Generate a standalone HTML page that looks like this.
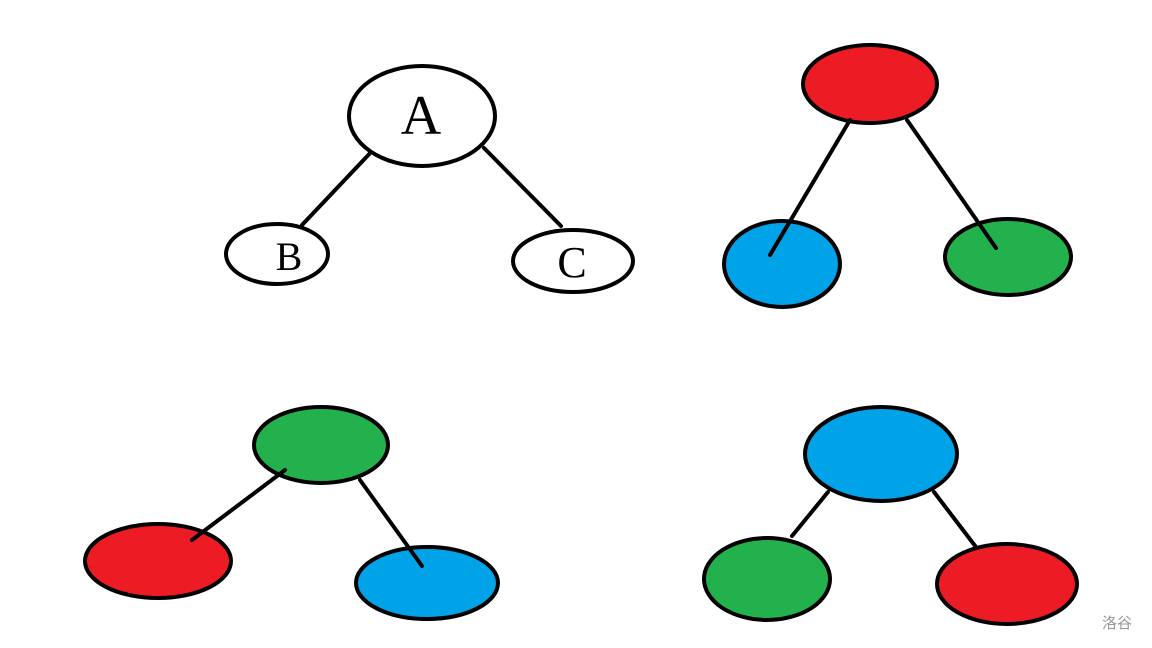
<!DOCTYPE html>
<html><head><meta charset="utf-8"><style>
html,body{margin:0;padding:0;background:#fff;}
svg{display:block;}
</style></head><body>
<svg width="1152" height="648" viewBox="0 0 1152 648" xmlns="http://www.w3.org/2000/svg">
<g stroke="#000" stroke-width="4" stroke-linecap="round">
<line x1="374" y1="149" x2="302" y2="225"/>
<line x1="484" y1="148" x2="561" y2="226"/>
<ellipse cx="422" cy="116" rx="73" ry="50" fill="#fff"/>
<ellipse cx="277" cy="254" rx="51" ry="30" fill="#fff"/>
<ellipse cx="573" cy="261" rx="60" ry="31" fill="#fff"/>

<ellipse cx="870" cy="84" rx="67" ry="39" fill="#ed1c24"/>
<ellipse cx="782" cy="264" rx="58" ry="43" fill="#00a2e8"/>
<ellipse cx="1008" cy="257" rx="63" ry="38" fill="#22b14c"/>
<line x1="850" y1="120" x2="770" y2="255"/>
<line x1="907" y1="120" x2="996" y2="248"/>

<ellipse cx="321" cy="445" rx="67" ry="38" fill="#22b14c"/>
<ellipse cx="158" cy="561" rx="73" ry="37" fill="#ed1c24"/>
<ellipse cx="427" cy="583" rx="71" ry="36" fill="#00a2e8"/>
<line x1="285" y1="470" x2="192" y2="540"/>
<line x1="360" y1="480" x2="422" y2="566"/>

<line x1="828" y1="492" x2="792" y2="536"/>
<line x1="934" y1="492" x2="979" y2="551"/>
<ellipse cx="881" cy="454" rx="76" ry="47" fill="#00a2e8"/>
<ellipse cx="767" cy="579" rx="63" ry="41" fill="#22b14c"/>
<ellipse cx="1007" cy="584" rx="70" ry="40" fill="#ed1c24"/>
</g>
<g font-family="Liberation Serif, serif" fill="#000">
<text x="421" y="134" font-size="56" text-anchor="middle">A</text>
<text x="289" y="270" font-size="40" text-anchor="middle">B</text>
<text x="572" y="277" font-size="44" text-anchor="middle">C</text>
</g>
<text x="1117" y="628" font-family="Liberation Sans, 'Noto Sans CJK SC', sans-serif" font-size="15" fill="#999" text-anchor="middle">洛谷</text>
</svg>
</body></html>
